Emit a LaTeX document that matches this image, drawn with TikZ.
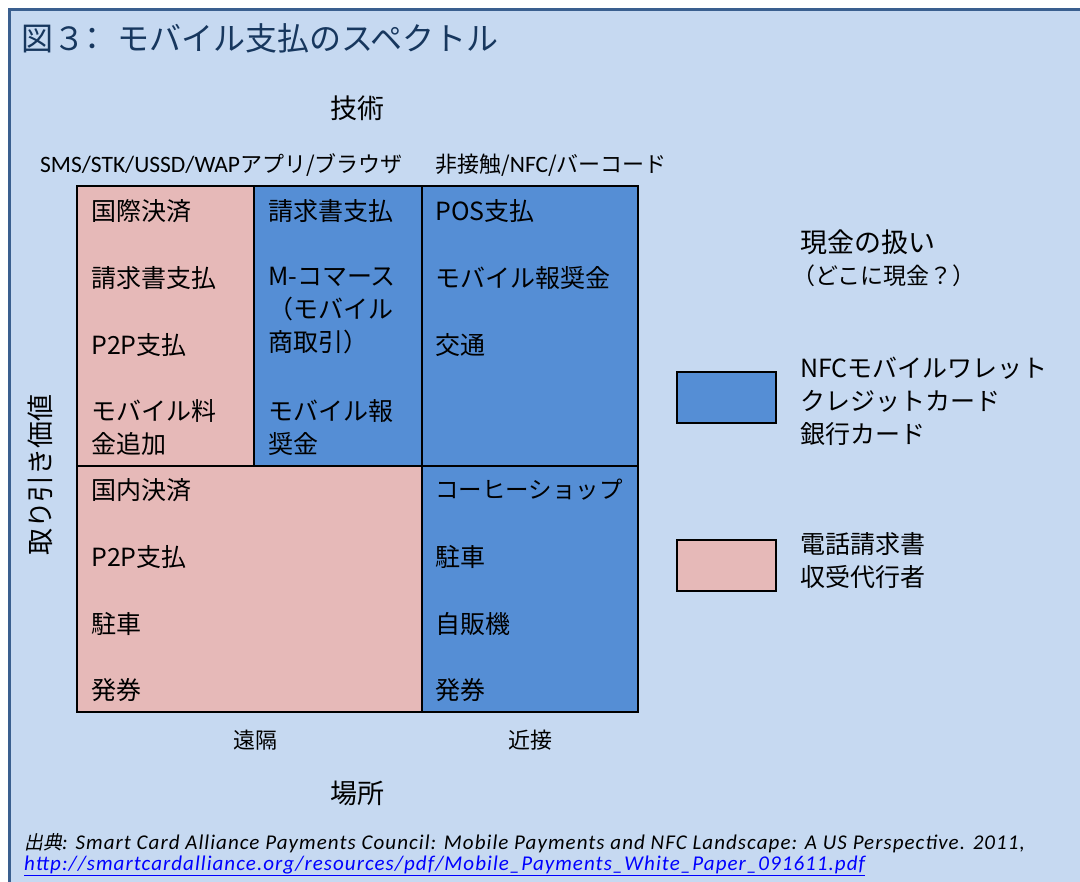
\documentclass[tikz,border=0pt]{standalone}
\usepackage{fontspec}
\newfontfamily\cjk{Noto Sans CJK JP}
\newfontfamily\cjkit[FakeSlant=0.2]{Noto Sans CJK JP}
\newfontfamily\lat{Carlito}
\newfontfamily\latwide[LetterSpace=5]{Carlito}
\definecolor{bgblue}{HTML}{C6D9F1}
\definecolor{frame}{HTML}{3A5F8F}
\definecolor{cellpink}{HTML}{E6B9B8}
\definecolor{cellblue}{HTML}{558ED5}
\definecolor{titlec}{HTML}{17375E}
\definecolor{linkc}{HTML}{0000FF}
\tikzset{
  cell/.style={draw=black, line width=1.2pt},
  celltext/.style={anchor=west, inner sep=0pt, align=left, font=\cjk\fontsize{25}{33}\selectfont},
  axis/.style={inner sep=0pt, font=\cjk\fontsize{27}{33}\selectfont},
  sub/.style={inner sep=0pt, font=\cjk\fontsize{22}{26}\selectfont},
  legendbox/.style={draw=black, line width=1.2pt},
  legendtext/.style={anchor=west, inner sep=0pt, align=left, font=\cjk\fontsize{25}{33}\selectfont},
}
\begin{document}
\begin{tikzpicture}[x=1pt,y=-1pt]
\useasboundingbox (0,0) rectangle (1080,882);
\fill[white] (0,0) rectangle (1080,882);
\fill[bgblue] (9.5,9.5) rectangle (1080,882);
\draw[frame, line width=3pt] (9.5,882) -- (9.5,9.5) -- (1080,9.5);

% title
\node[anchor=west, inner sep=0pt, text=titlec, font=\cjk\fontsize{32}{36}\selectfont] (title) at (21,38) {図３\hspace{-9pt}：\hspace{9pt}モバイル支払のスペクトル};

% axis labels
\node[axis] (tech) at (357,108) {技術};
\node[sub, anchor=west] (techL) at (40,165) {{\lat\fontsize{23.5}{26}\selectfont SMS/STK/USSD/WAP}アプリ/ブラウザ};
\node[sub, anchor=west] (techR) at (435,165) {非接触/{\lat\fontsize{23.5}{26}\selectfont NFC}/バーコード};
\node[axis, rotate=90] (value) at (40,475) {取り引き価値};
\node[sub] (far) at (255,740) {遠隔};
\node[sub] (near) at (530,740) {近接};
\node[axis] (place) at (357,793) {場所};

% cells
\path[cell, fill=cellpink] (77,186) rectangle (254,466);
\path[cell, fill=cellblue] (254,186) rectangle (422,466);
\path[cell, fill=cellblue] (422,186) rectangle (638,466);
\path[cell, fill=cellpink] (77,466) rectangle (422,712);
\path[cell, fill=cellblue] (422,466) rectangle (638,712);

% cell texts
\node[celltext] (a1) at (91,211) {国際決済};
\node[celltext] (a2) at (91,278) {請求書支払};
\node[celltext] (a3) at (91,345) {P2P支払};
\node[celltext] (a4) at (91,428) {モバイル料\\金追加};
\node[celltext] (b1) at (268,211) {請求書支払};
\node[celltext] (b2) at (268,311) {M-コマース\\（モバイル\\商取引）};
\node[celltext] (b3) at (268,428) {モバイル報\\奨金};
\node[celltext] (c1) at (435,211) {POS支払};
\node[celltext] (c2) at (435,278) {モバイル報奨金};
\node[celltext] (c3) at (435,345) {交通};
\node[celltext] (d1) at (91,490) {国内決済};
\node[celltext] (d2) at (91,557) {P2P支払};
\node[celltext] (d3) at (91,624) {駐車};
\node[celltext] (d4) at (91,690) {発券};
\node[celltext, font=\cjk\fontsize{23.5}{33}\selectfont] (e1) at (435,490) {コーヒーショップ};
\node[celltext] (e2) at (435,557) {駐車};
\node[celltext] (e3) at (435,624) {自販機};
\node[celltext] (e4) at (435,690) {発券};

% legend
\node[anchor=west, inner sep=0pt, font=\cjk\fontsize{27}{33}\selectfont] (lgtitle) at (800,242) {現金の扱い};
\node[anchor=west, inner sep=0pt, font=\cjk\fontsize{23}{26}\selectfont] (lgsub) at (792,276) {（どこに現金？）};
\path[legendbox, fill=cellblue] (677,372) rectangle (776,423);
\node[legendtext] (lgblue) at (800,401) {NFCモバイルワレット\\クレジットカード\\銀行カード};
\path[legendbox, fill=cellpink] (677,540) rectangle (776,591);
\node[legendtext] (lgpink) at (800,561) {電話請求書\\収受代行者};

% footer
\node[anchor=west, inner sep=0pt, font=\latwide\itshape\fontsize{21}{24}\selectfont] (src) at (24,843) {{\cjkit\fontsize{19}{24}\selectfont 出典}: Smart Card Alliance Payments Council: Mobile Payments and NFC Landscape: A US Perspective. 2011,};
\node[anchor=west, inner sep=0pt, text=linkc, font=\latwide\itshape\fontsize{21}{24}\selectfont] (url) at (24,866) {\underline{http://smartcardalliance.org/resources/pdf/Mobile\_Payments\_White\_Paper\_091611.pdf}};
\end{tikzpicture}
\end{document}
